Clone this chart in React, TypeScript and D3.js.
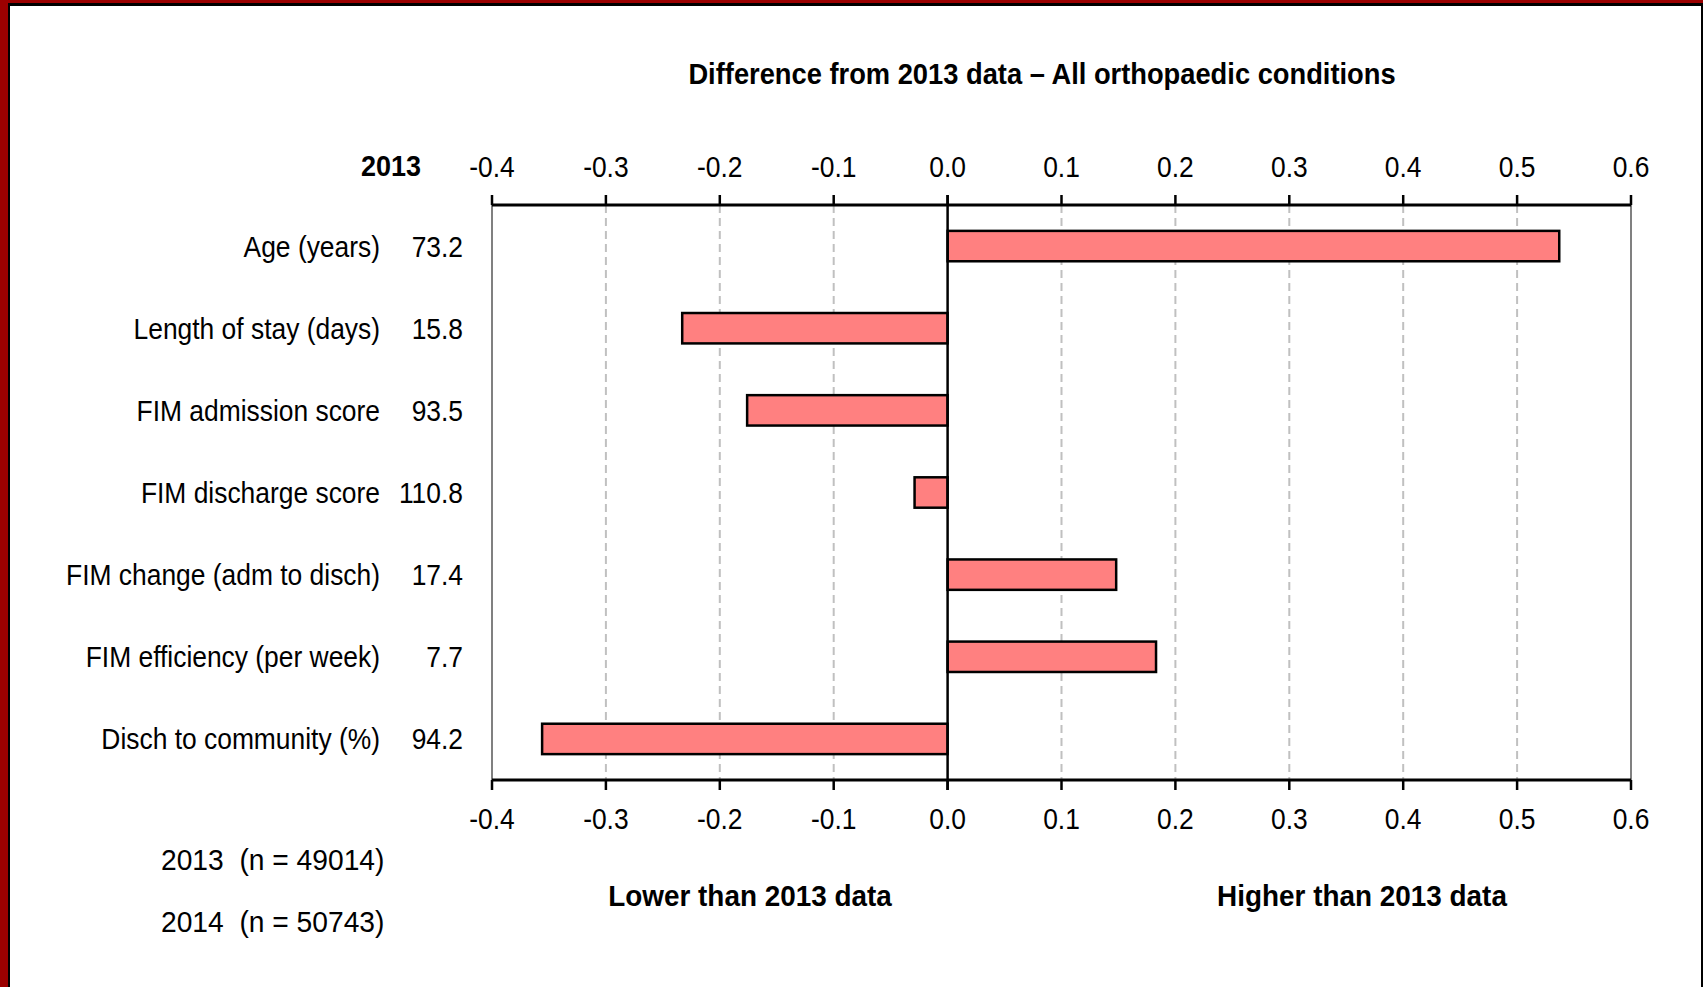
import React from "react";
import * as d3 from "d3";

const categories = [
  "Age (years)",
  "Length of stay (days)",
  "FIM admission score",
  "FIM discharge score",
  "FIM change (adm to disch)",
  "FIM efficiency (per week)",
  "Disch to community (%)",
];
const baseline2013 = ["73.2", "15.8", "93.5", "110.8", "17.4", "7.7", "94.2"];
const differences = [0.537, -0.233, -0.176, -0.029, 0.148, 0.183, -0.356];
const tickValues = [-0.4, -0.3, -0.2, -0.1, 0.0, 0.1, 0.2, 0.3, 0.4, 0.5, 0.6];
const legendLines = ["2013  (n = 49014)", "2014  (n = 50743)"];

const W = 1703;
const H = 987;
const FONT = "'Liberation Sans', Arial, sans-serif";
const FS = 30;
const SX = 0.88;
const SXB = 0.9;

type TProps = {
  x: number;
  y: number;
  anchor?: "start" | "middle" | "end";
  bold?: boolean;
  dy?: string;
  sx?: number;
  children: React.ReactNode;
};

function T({ x, y, anchor = "start", bold = false, dy, sx, children }: TProps) {
  const s = sx ?? (bold ? SXB : SX);
  return (
    <text
      transform={`translate(${x},${y}) scale(${s},1)`}
      textAnchor={anchor}
      fontSize={FS}
      fontWeight={bold ? "bold" : "normal"}
      fill="#000"
      dy={dy}
      style={{ whiteSpace: "pre" }}
    >
      {children}
    </text>
  );
}

export default function App() {
  const x = d3.scaleLinear().domain([-0.4, 0.6]).range([492, 1631]);
  const top = 205;
  const bottom = 780;
  const y = d3
    .scaleBand<string>()
    .domain(categories)
    .range([top, bottom])
    .paddingInner(0.63)
    .paddingOuter(0.315);
  const fmt = (v: number) => d3.format(".1f")(v).replace("\u2212", "-");

  return (
    <div style={{ position: "absolute", left: 0, top: 0 }}>
      <svg width={W} height={H} style={{ display: "block" }} fontFamily={FONT}>
        <rect x={0} y={0} width={W} height={H} fill="#fff" />
        {/* frame */}
        <rect x={0} y={0} width={W} height={3} fill="#9B0000" />
        <rect x={0} y={0} width={8} height={H} fill="#9B0000" />
        <rect x={8} y={3} width={W - 8} height={3} fill="#000" />
        <rect x={8} y={3} width={2} height={H - 3} fill="#000" />
        <rect x={W - 2} y={3} width={2} height={H - 3} fill="#000" />

        {/* title */}
        <T x={1042} y={84} anchor="middle" bold sx={0.91}>
          Difference from 2013 data – All orthopaedic conditions
        </T>

        {/* grid lines */}
        {tickValues.map((t, i) => {
          const isEdge = i === 0 || i === tickValues.length - 1;
          if (t === 0) return null;
          return (
            <line
              key={"g" + i}
              x1={x(t)}
              x2={x(t)}
              y1={top}
              y2={bottom}
              stroke={isEdge ? "#808080" : "#C0C0C0"}
              strokeWidth={2}
              strokeDasharray={isEdge ? undefined : "8,5"}
            />
          );
        })}

        {/* bars */}
        {categories.map((c, i) => {
          const v = differences[i];
          const x0 = x(Math.min(0, v));
          const x1 = x(Math.max(0, v));
          return (
            <rect
              key={"b" + i}
              x={x0}
              y={y(c)!}
              width={x1 - x0}
              height={y.bandwidth()}
              fill="#FF8080"
              stroke="#000"
              strokeWidth={2.5}
            />
          );
        })}

        {/* zero line */}
        <line x1={x(0)} x2={x(0)} y1={top - 10} y2={bottom + 10} stroke="#000" strokeWidth={2.5} />

        {/* axes */}
        <line x1={x(-0.4)} x2={x(0.6)} y1={top} y2={top} stroke="#000" strokeWidth={3} />
        <line x1={x(-0.4)} x2={x(0.6)} y1={bottom} y2={bottom} stroke="#000" strokeWidth={3} />
        {tickValues.map((t, i) => (
          <g key={"t" + i}>
            <line x1={x(t)} x2={x(t)} y1={top - 10} y2={top} stroke="#000" strokeWidth={2.5} />
            <line x1={x(t)} x2={x(t)} y1={bottom} y2={bottom + 10} stroke="#000" strokeWidth={2.5} />
            <T x={x(t)} y={177} anchor="middle">
              {fmt(t)}
            </T>
            <T x={x(t)} y={829} anchor="middle">
              {fmt(t)}
            </T>
          </g>
        ))}

        {/* header 2013 */}
        <T x={421} y={176} anchor="end" bold>
          2013
        </T>

        {/* category labels and values */}
        {categories.map((c, i) => {
          const cy = y(c)! + y.bandwidth() / 2;
          return (
            <g key={"l" + i}>
              <T x={380} y={cy} dy="0.35em" anchor="end">
                {c}
              </T>
              <T x={463} y={cy} dy="0.35em" anchor="end">
                {baseline2013[i]}
              </T>
            </g>
          );
        })}

        {/* legend lines */}
        {legendLines.map((s, i) => (
          <T key={"n" + i} x={161} y={870 + i * 62} sx={0.94}>
            {s}
          </T>
        ))}

        {/* bottom labels */}
        <T x={750} y={906} anchor="middle" bold sx={0.93}>
          Lower than 2013 data
        </T>
        <T x={1362} y={906} anchor="middle" bold sx={0.93}>
          Higher than 2013 data
        </T>
      </svg>
    </div>
  );
}
